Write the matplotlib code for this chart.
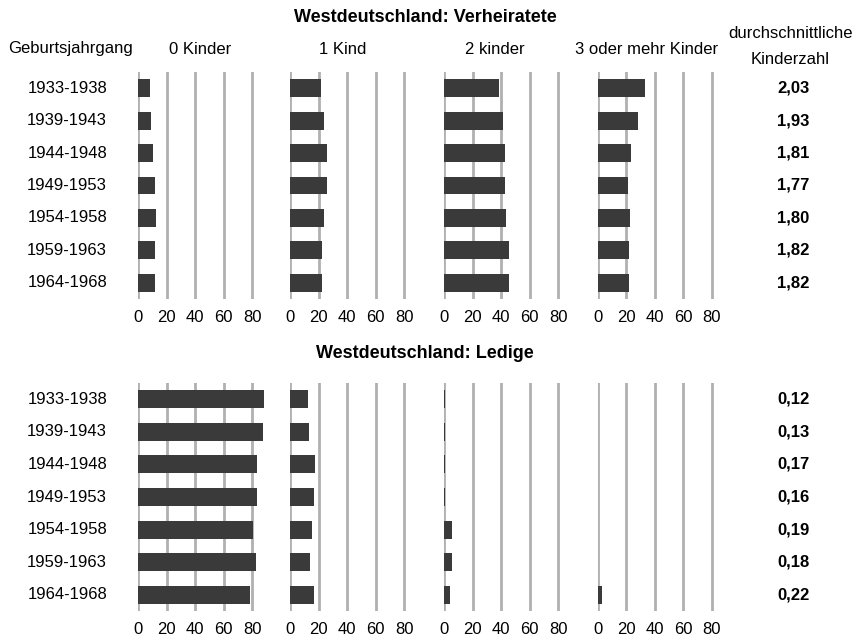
import matplotlib.pyplot as plt
import matplotlib.transforms as mtransforms

plt.rcParams["font.family"] = ["Liberation Sans", "DejaVu Sans"]
plt.rcParams["font.size"] = 12

years = ["1933-1938", "1939-1943", "1944-1948", "1949-1953",
         "1954-1958", "1959-1963", "1964-1968"]
columns = ["0 Kinder", "1 Kind", "2 kinder", "3 oder mehr Kinder"]

# percentages per column (0, 1, 2, 3+ children)
verh_0 = [8.2, 8.7, 10.5, 11.7, 12.2, 11.7, 11.7]
verh_1 = [21.5, 23.6, 26.0, 26.0, 23.6, 22.0, 22.0]
verh_2 = [38.4, 41.2, 42.4, 42.8, 43.3, 45.6, 45.6]
verh_3 = [33.4, 28.1, 23.2, 21.0, 22.7, 22.0, 22.0]
verh_avg = ["2,03", "1,93", "1,81", "1,77", "1,80", "1,82", "1,82"]

led_0 = [88.4, 87.5, 83.1, 83.5, 80.7, 82.6, 78.2]
led_1 = [12.2, 13.1, 17.5, 16.6, 15.2, 13.8, 16.6]
led_2 = [0.4, 0.4, 0.4, 0.4, 5.2, 5.2, 4.0]
led_3 = [0.4, 0.4, 0.4, 0.4, 0.4, 0.4, 2.8]
led_avg = ["0,12", "0,13", "0,17", "0,16", "0,19", "0,18", "0,22"]

ticks = [0, 20, 40, 60, 80]

W, H = 855, 636
fig = plt.figure(figsize=(W / 100, H / 100), dpi=100)

px_per_unit = 1.425
x0s = [138.3, 290.3, 444.3, 597.7]
ax_w = 90 * px_per_unit


def fx(x):
    return x / W


def fy(y):
    return 1 - y / H


def panel(series, avgs, top, bottom):
    for i, (x0, vals) in enumerate(zip(x0s, series)):
        ax = fig.add_axes([fx(x0), fy(bottom), fx(ax_w), (bottom - top) / H])
        ax.barh(range(len(years)), vals, height=0.55, color="#3a3a3a", zorder=3)
        ax.set_xlim(0, 90)
        ax.set_ylim(6.5, -0.5)
        ax.set_xticks(ticks)
        ax.set_yticks([])
        ax.grid(axis="x", color="#b0b0b0", linewidth=2, zorder=0)
        ax.tick_params(length=0, labelsize=12, pad=8)
        for s in ax.spines.values():
            s.set_visible(False)
        # row labels on the left, average child count on the right
        trans = mtransforms.blended_transform_factory(fig.transFigure, ax.transData)
        if i == 0:
            for j, y in enumerate(years):
                ax.text(fx(107), j, y, transform=trans, ha="right", va="center")
        if i == 3:
            for j, a in enumerate(avgs):
                ax.text(fx(793), j, a, transform=trans, ha="center",
                        va="center", fontweight="bold")


panel([verh_0, verh_1, verh_2, verh_3], verh_avg, 72, 299)
panel([led_0, led_1, led_2, led_3], led_avg, 383, 611)

fig.text(fx(425), fy(18), "Westdeutschland: Verheiratete", ha="center",
         va="center", fontsize=13, fontweight="bold")
fig.text(fx(425), fy(353), "Westdeutschland: Ledige", ha="center",
         va="center", fontsize=13, fontweight="bold")

fig.text(fx(8), fy(49), "Geburtsjahrgang", ha="left", va="center")
for cx, lab in zip([200, 343, 495, 647], columns):
    fig.text(fx(cx), fy(49), lab, ha="center", va="center")
fig.text(fx(790), fy(33), "durchschnittliche", ha="center", va="center")
fig.text(fx(790), fy(60), "Kinderzahl", ha="center", va="center")

fig.savefig("out.png", dpi=100)
